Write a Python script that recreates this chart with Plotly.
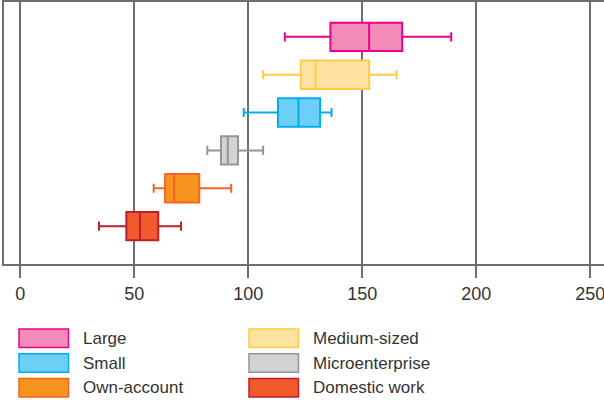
import plotly.graph_objects as go

# ---- data ----
categories = ["Large", "Medium-sized", "Small", "Microenterprise", "Own-account", "Domestic work"]
lower_fence = [116, 106.5, 98, 82, 58.5, 34.5]
q1 = [136, 123, 113, 88, 63.5, 46.5]
median = [153, 129.5, 122, 91, 67.5, 52.5]
q3 = [167.5, 153, 131.5, 95.5, 78.5, 60.5]
upper_fence = [189, 165, 136.5, 106.5, 92.5, 70.5]
positions = [5, 4, 3, 2, 1, 0]
fill_colors = ["#F28BB8", "#FEE3A2", "#6DCFF6", "#D1D3D4", "#F7941D", "#F15A2B"]
line_colors = ["#EC008C", "#FFCC44", "#00AEEF", "#939598", "#F26522", "#BE1E2D"]
x_ticks = [0, 50, 100, 150, 200, 250]

GRID = "#6D6E71"
TEXT = "#333333"
FONT = "Liberation Sans, Arial"

fig = go.Figure()
for i, name in enumerate(categories):
    fig.add_trace(go.Box(
        name=name,
        y=[positions[i]],
        lowerfence=[lower_fence[i]],
        q1=[q1[i]],
        median=[median[i]],
        q3=[q3[i]],
        upperfence=[upper_fence[i]],
        orientation="h",
        width=0.75,
        whiskerwidth=0.32,
        fillcolor=fill_colors[i],
        line=dict(color=line_colors[i], width=2),
        boxpoints=False,
        showlegend=False,
    ))

# legend built manually (large rectangular swatches, two columns)
W, H = 604, 400
ML, MR, MT, MB = 4, 0, 2, 136
PW, PH = W - ML - MR, H - MT - MB

def xp(px):
    return (px - ML) / PW

def yp(py):
    return (H - MB - py) / PH

legend_order = [0, 1, 2, 3, 4, 5]
col_x = [19, 249]
row_y = [338.2, 363, 387.8]
shapes = []
annotations = []
for k, i in enumerate(legend_order):
    c, r = k % 2, k // 2
    x0 = col_x[c]
    yc = row_y[r]
    shapes.append(dict(type="rect", xref="paper", yref="paper",
                       x0=xp(x0), x1=xp(x0 + 49.5), y0=yp(yc - 9.3), y1=yp(yc + 9.3),
                       fillcolor=fill_colors[i], line=dict(color=line_colors[i], width=1.5)))
    annotations.append(dict(xref="paper", yref="paper", x=xp(x0 + 62), y=yp(yc),
                            xanchor="left", yanchor="middle", showarrow=False,
                            text=categories[i],
                            font=dict(family=FONT, size=17, color=TEXT)))

fig.update_layout(
    width=W, height=H,
    margin=dict(l=ML, r=MR, t=MT, b=MB, pad=0),
    paper_bgcolor="white", plot_bgcolor="white",
    shapes=shapes, annotations=annotations,
    showlegend=False,
    xaxis=dict(
        range=[-7.15, 256], tickvals=x_ticks, ticktext=[str(v) for v in x_ticks],
        showgrid=True, gridcolor=GRID, gridwidth=1.5,
        zeroline=False, showline=True, linecolor=GRID, linewidth=2, mirror=True,
        ticks="outside", ticklen=12, tickwidth=1.5, tickcolor=GRID,
        ticklabeloverflow="allow",
        tickfont=dict(family=FONT, size=18, color=TEXT),
    ),
    yaxis=dict(
        range=[-1.0, 5.92], showticklabels=False, showgrid=False, zeroline=False,
        showline=True, linecolor=GRID, linewidth=2, ticks="",
    ),
)

fig.write_html("out.html")
